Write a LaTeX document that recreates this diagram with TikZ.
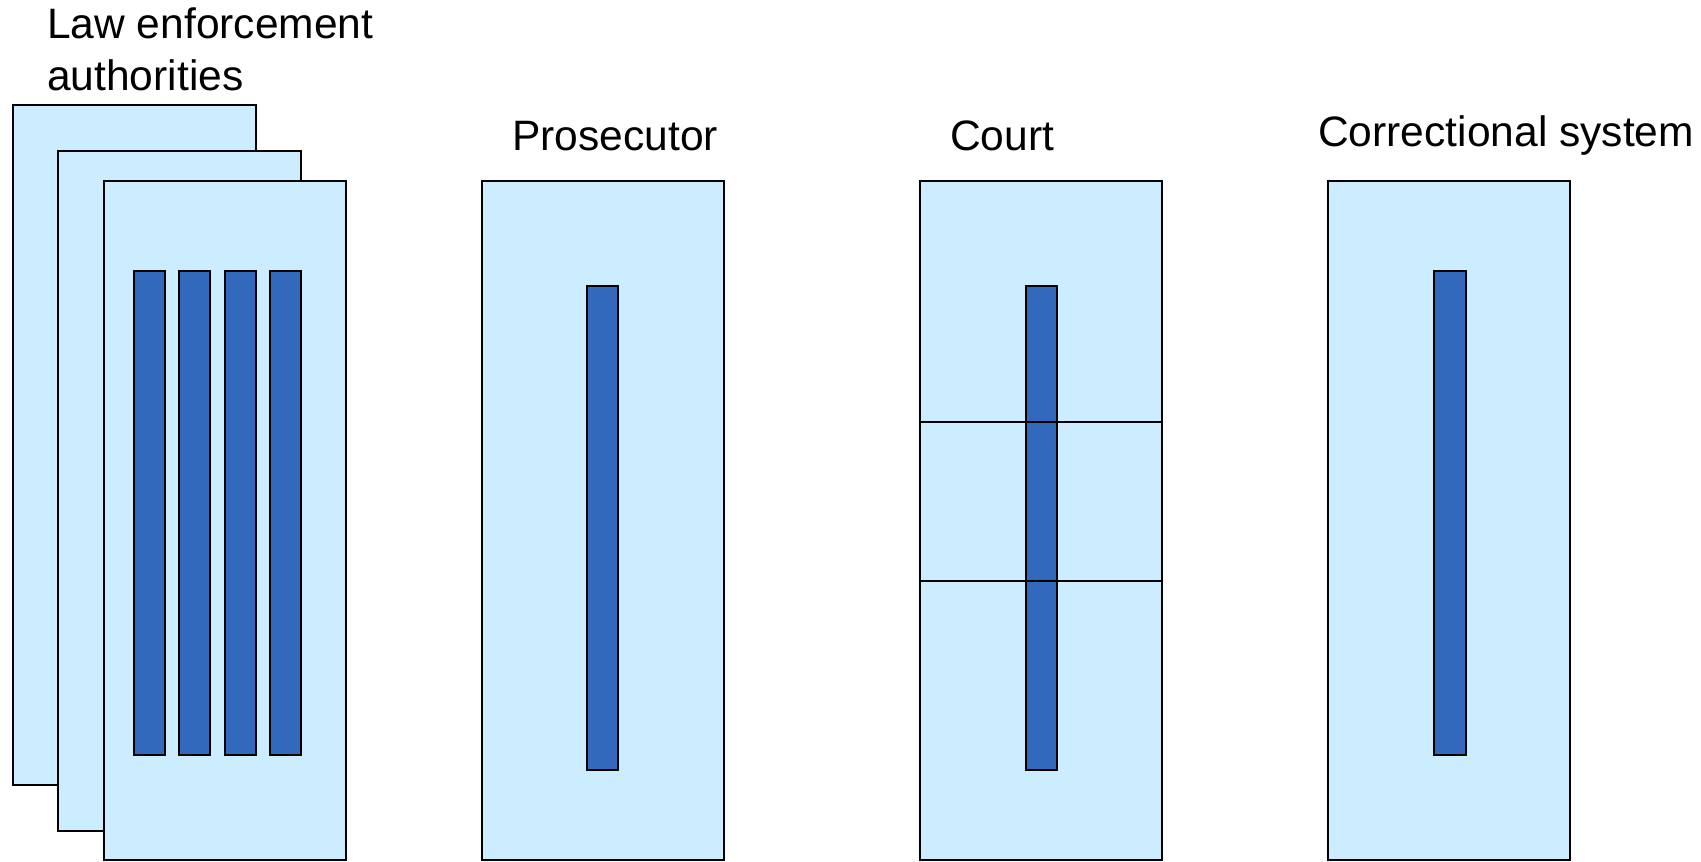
\documentclass[tikz,border=0pt]{standalone}
\usepackage{fontspec}
\setmainfont{Liberation Sans}
\definecolor{paleblue}{RGB}{204,236,255}
\definecolor{barblue}{RGB}{51,105,189}
\tikzset{every picture/.style={line width=1.8pt}}
\tikzset{panel/.style={draw=black,fill=paleblue},
	bar/.style={draw=black,fill=barblue},
	caption/.style={anchor=base west,inner sep=0pt,font=\fontsize{31.9}{39}\selectfont}}

\begin{document}
\begin{tikzpicture}[x=0.75pt,y=0.75pt,yscale=-1,xscale=1]
	\useasboundingbox (0,0) rectangle (1701,861);
	
	%Shape: Rectangle (back)
	\draw [panel] (13,105) rectangle (256,785) ;
	%Shape: Rectangle (middle)
	\draw [panel] (58,151) rectangle (301,831) ;
	%Shape: Rectangle (front)
	\draw [panel] (104,181) rectangle (346,860) ;
	%Shape: Bars
	\draw [bar] (134,271) rectangle (165,755) ;
	\draw [bar] (179,271) rectangle (210,755) ;
	\draw [bar] (225,271) rectangle (256,755) ;
	\draw [bar] (270,271) rectangle (301,755) ;
	
	%Shape: Rectangle
	\draw [panel] (482,181) rectangle (724,860) ;
	\draw [bar] (587,286) rectangle (618,770) ;
	
	%Shape: Rectangle
	\draw [panel] (920,181) rectangle (1162,860) ;
	\draw [bar] (1026,286) rectangle (1057,770) ;
	%Straight Lines
	\draw    (920,422) -- (1162,422) ;
	\draw    (920,581) -- (1162,581) ;
	
	%Shape: Rectangle
	\draw [panel] (1328,181) rectangle (1570,860) ;
	\draw [bar] (1434,271) rectangle (1466,755) ;
	
	% Text Node
	\node [caption] (law) at (46,38) {Law enforcement};
	% Text Node
	\node [caption] (lawb) at (46,90) {authorities};
	% Text Node
	\node [caption] (prosecutor) at (511,150) {Prosecutor};
	% Text Node
	\node [caption] (court) at (949,150) {Court};
	% Text Node
	\node [caption] (correction) at (1317,146) {Correctional system};
	
\end{tikzpicture}
\end{document}
